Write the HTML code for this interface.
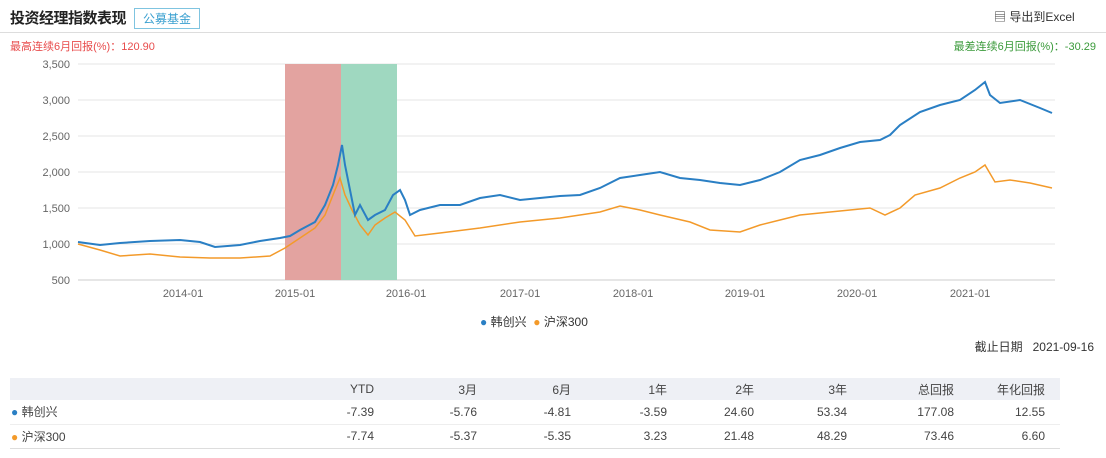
<!DOCTYPE html><html><head><meta charset="utf-8"><style>
body{margin:0;width:1106px;height:458px;background:#fff;font-family:"Liberation Sans","Noto Sans CJK SC",sans-serif;position:relative;overflow:hidden;color:#333}
.a{position:absolute;white-space:nowrap}
td{font-size:12px;color:#444}
</style></head><body>
<div class="a" style="left:10px;top:7px;font-size:15px;font-weight:bold;color:#222;letter-spacing:-0.5px">投资经理指数表现</div>
<div class="a" style="left:134px;top:8px;border:1px solid #7fc4e0;color:#3aa0d0;font-size:12px;padding:1px 8px;">公募基金</div>
<div class="a" style="left:994px;top:8px;font-size:12px;color:#333">&#9636; 导出到Excel</div>
<div class="a" style="left:0;top:32px;width:1106px;height:1px;background:#ddd"></div>
<div class="a" style="left:10px;top:38px;font-size:11px;color:#e84c4c">最高连续6月回报(%)：120.90</div>
<div class="a" style="right:10px;top:38px;font-size:11px;color:#3a9a3a">最差连续6月回报(%)：-30.29</div>
<svg class="a" style="left:0;top:0" width="1106" height="310">
<g stroke="#e6e6e6"><line x1="78" y1="64" x2="1055" y2="64"/><line x1="78" y1="100" x2="1055" y2="100"/><line x1="78" y1="136" x2="1055" y2="136"/><line x1="78" y1="172" x2="1055" y2="172"/><line x1="78" y1="208" x2="1055" y2="208"/><line x1="78" y1="244" x2="1055" y2="244"/><line x1="78" y1="280" x2="1055" y2="280" stroke="#ccc"/></g>
<rect x="285" y="64" width="56" height="216" fill="#e3a3a0"/><rect x="341" y="64" width="56" height="216" fill="#9fd8c0"/>
<g font-size="11" fill="#666" text-anchor="end"><text x="70" y="68">3,500</text><text x="70" y="104">3,000</text><text x="70" y="140">2,500</text><text x="70" y="176">2,000</text><text x="70" y="212">1,500</text><text x="70" y="248">1,000</text><text x="70" y="284">500</text></g>
<g font-size="11" fill="#666" text-anchor="middle"><text x="183" y="297">2014-01</text><text x="295" y="297">2015-01</text><text x="406" y="297">2016-01</text><text x="520" y="297">2017-01</text><text x="633" y="297">2018-01</text><text x="745" y="297">2019-01</text><text x="857" y="297">2020-01</text><text x="970" y="297">2021-01</text></g>
<polyline fill="none" stroke="#f39a2a" stroke-width="1.5" points="78,244 100,250 120,256 150,254 180,257 210,258 240,258 270,256 285,248 300,238 315,228 325,215 335,190 340,178 345,195 352,210 360,225 368,235 375,225 385,218 395,212 405,220 415,236 440,233 480,228 520,222 560,218 600,212 620,206 640,210 660,215 690,222 710,230 740,232 760,225 780,220 800,215 830,212 850,210 870,208 885,215 900,208 915,195 940,188 960,178 975,172 985,165 995,182 1010,180 1030,183 1052,188"/>
<polyline fill="none" stroke="#2a7fc4" stroke-width="2" points="78,242 100,245 120,243 150,241 180,240 200,242 215,247 240,245 260,241 280,238 290,236 300,230 315,222 325,205 333,185 338,165 342,145 345,165 350,190 355,215 360,205 368,220 375,215 385,210 393,195 400,190 405,200 410,215 420,210 440,205 460,205 480,198 500,195 520,200 540,198 560,196 580,195 600,188 620,178 640,175 660,172 680,178 700,180 720,183 740,185 760,180 780,172 800,160 820,155 840,148 860,142 880,140 890,135 900,125 920,112 940,105 960,100 975,90 985,82 990,95 1000,103 1020,100 1040,108 1052,113"/>
</svg>
<div class="a" style="left:480px;top:313px;font-size:12px;color:#333"><span style="color:#2a7fc4">●</span> 韩创兴 &nbsp;<span style="color:#f39a2a">●</span> 沪深300</div>
<div class="a" style="right:12px;top:338px;font-size:12px;color:#333">截止日期 &nbsp; 2021-09-16</div>
<table class="a" style="left:10px;top:378px;width:1050px;border-collapse:collapse;table-layout:fixed">
<colgroup><col style="width:120px"><col style="width:245px"><col style="width:103px"><col style="width:94px"><col style="width:96px"><col style="width:87px"><col style="width:93px"><col style="width:107px"><col></colgroup>
<tr style="background:#eef0f5;height:22px"><td></td><td align="right">YTD</td><td align="right">3月</td><td align="right">6月</td><td align="right">1年</td><td align="right">2年</td><td align="right">3年</td><td align="right">总回报</td><td align="right" style="padding-right:15px">年化回报</td></tr>
<tr style="height:24px;border-bottom:1px solid #eee"><td><span style="color:#2a7fc4">●</span> 韩创兴</td><td align="right">-7.39</td><td align="right">-5.76</td><td align="right">-4.81</td><td align="right">-3.59</td><td align="right">24.60</td><td align="right">53.34</td><td align="right">177.08</td><td align="right" style="padding-right:15px">12.55</td></tr>
<tr style="height:24px;border-bottom:1px solid #ddd"><td><span style="color:#f39a2a">●</span> 沪深300</td><td align="right">-7.74</td><td align="right">-5.37</td><td align="right">-5.35</td><td align="right">3.23</td><td align="right">21.48</td><td align="right">48.29</td><td align="right">73.46</td><td align="right" style="padding-right:15px">6.60</td></tr>
</table>
</body></html>
